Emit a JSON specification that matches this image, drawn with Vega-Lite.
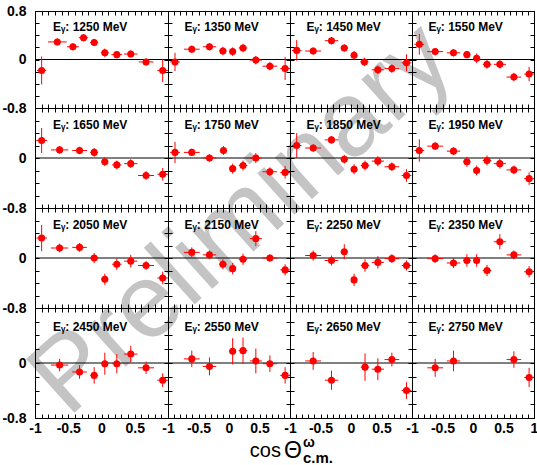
{
"$schema": "https://vega.github.io/schema/vega-lite/v6.json",
"background": "white",
"padding": {"left": 1, "top": 3, "right": 0, "bottom": 0},
"config": {
  "view": {"stroke": "black", "strokeWidth": 1},
  "axis": {"domain": false, "grid": false, "tickColor": "black", "tickSize": -4, "tickWidth": 1, "labelFont": "Liberation Sans", "labelFontWeight": "bold", "labelFontSize": 14, "labelColor": "black", "labelFlush": false, "labelOverlap": false, "labelBound": false}
},
"datasets": {
  "pts": [
    {"E":1250,"x":-0.9,"y":-0.18,"ex":0.07,"ey":0.23},
    {"E":1250,"x":-0.665,"y":0.29,"ex":0.14,"ey":0.06},
    {"E":1250,"x":-0.43,"y":0.21,"ex":0.09,"ey":0.06},
    {"E":1250,"x":-0.27,"y":0.36,"ex":0.07,"ey":0.06},
    {"E":1250,"x":-0.11,"y":0.28,"ex":0.06,"ey":0.06},
    {"E":1250,"x":0.05,"y":0.11,"ex":0.06,"ey":0.07},
    {"E":1250,"x":0.23,"y":0.08,"ex":0.08,"ey":0.06},
    {"E":1250,"x":0.44,"y":0.09,"ex":0.1,"ey":0.06},
    {"E":1250,"x":0.67,"y":-0.04,"ex":0.11,"ey":0.06},
    {"E":1250,"x":0.92,"y":-0.18,"ex":0.08,"ey":0.19},
    {"E":1350,"x":-0.885,"y":-0.04,"ex":0.08,"ey":0.15},
    {"E":1350,"x":-0.61,"y":0.17,"ex":0.13,"ey":0.06},
    {"E":1350,"x":-0.32,"y":0.21,"ex":0.11,"ey":0.06},
    {"E":1350,"x":-0.1,"y":0.14,"ex":0.06,"ey":0.07},
    {"E":1350,"x":0.06,"y":0.13,"ex":0.05,"ey":0.07},
    {"E":1350,"x":0.23,"y":0.19,"ex":0.07,"ey":0.07},
    {"E":1350,"x":0.44,"y":-0.01,"ex":0.1,"ey":0.07},
    {"E":1350,"x":0.67,"y":-0.11,"ex":0.12,"ey":0.07},
    {"E":1350,"x":0.92,"y":-0.15,"ex":0.08,"ey":0.19},
    {"E":1450,"x":-0.89,"y":0.15,"ex":0.08,"ey":0.17},
    {"E":1450,"x":-0.62,"y":0.14,"ex":0.13,"ey":0.06},
    {"E":1450,"x":-0.32,"y":0.31,"ex":0.11,"ey":0.06},
    {"E":1450,"x":-0.11,"y":0.19,"ex":0.06,"ey":0.06},
    {"E":1450,"x":0.05,"y":0.07,"ex":0.05,"ey":0.07},
    {"E":1450,"x":0.22,"y":-0.04,"ex":0.07,"ey":0.07},
    {"E":1450,"x":0.44,"y":-0.17,"ex":0.1,"ey":0.07},
    {"E":1450,"x":0.67,"y":-0.15,"ex":0.12,"ey":0.07},
    {"E":1450,"x":0.91,"y":-0.055,"ex":0.08,"ey":0.14},
    {"E":1550,"x":-0.88,"y":0.25,"ex":0.08,"ey":0.17},
    {"E":1550,"x":-0.62,"y":0.13,"ex":0.13,"ey":0.06},
    {"E":1550,"x":-0.32,"y":0.11,"ex":0.11,"ey":0.06},
    {"E":1550,"x":-0.1,"y":0.08,"ex":0.06,"ey":0.06},
    {"E":1550,"x":0.06,"y":0.02,"ex":0.05,"ey":0.08},
    {"E":1550,"x":0.23,"y":-0.08,"ex":0.07,"ey":0.07},
    {"E":1550,"x":0.44,"y":-0.08,"ex":0.1,"ey":0.07},
    {"E":1550,"x":0.67,"y":-0.29,"ex":0.12,"ey":0.07},
    {"E":1550,"x":0.92,"y":-0.24,"ex":0.08,"ey":0.12},
    {"E":1650,"x":-0.9,"y":0.28,"ex":0.08,"ey":0.2},
    {"E":1650,"x":-0.63,"y":0.13,"ex":0.13,"ey":0.06},
    {"E":1650,"x":-0.33,"y":0.12,"ex":0.11,"ey":0.06},
    {"E":1650,"x":-0.11,"y":0.09,"ex":0.06,"ey":0.07},
    {"E":1650,"x":0.05,"y":-0.06,"ex":0.05,"ey":0.07},
    {"E":1650,"x":0.23,"y":-0.11,"ex":0.07,"ey":0.07},
    {"E":1650,"x":0.44,"y":-0.09,"ex":0.1,"ey":0.07},
    {"E":1650,"x":0.67,"y":-0.28,"ex":0.12,"ey":0.07},
    {"E":1650,"x":0.92,"y":-0.26,"ex":0.08,"ey":0.1},
    {"E":1750,"x":-0.885,"y":0.09,"ex":0.08,"ey":0.17},
    {"E":1750,"x":-0.61,"y":0.09,"ex":0.13,"ey":0.06},
    {"E":1750,"x":-0.32,"y":0.0,"ex":0.11,"ey":0.06},
    {"E":1750,"x":-0.09,"y":0.12,"ex":0.06,"ey":0.07},
    {"E":1750,"x":0.06,"y":-0.17,"ex":0.05,"ey":0.08},
    {"E":1750,"x":0.23,"y":-0.12,"ex":0.07,"ey":0.08},
    {"E":1750,"x":0.44,"y":0.0,"ex":0.1,"ey":0.08},
    {"E":1750,"x":0.67,"y":-0.22,"ex":0.12,"ey":0.07},
    {"E":1750,"x":0.92,"y":-0.23,"ex":0.08,"ey":0.1},
    {"E":1850,"x":-0.89,"y":0.2,"ex":0.08,"ey":0.2},
    {"E":1850,"x":-0.62,"y":0.16,"ex":0.13,"ey":0.06},
    {"E":1850,"x":-0.32,"y":0.29,"ex":0.11,"ey":0.06},
    {"E":1850,"x":-0.11,"y":-0.02,"ex":0.06,"ey":0.07},
    {"E":1850,"x":0.05,"y":-0.18,"ex":0.05,"ey":0.08},
    {"E":1850,"x":0.23,"y":-0.12,"ex":0.07,"ey":0.08},
    {"E":1850,"x":0.44,"y":-0.05,"ex":0.1,"ey":0.08},
    {"E":1850,"x":0.67,"y":-0.14,"ex":0.12,"ey":0.07},
    {"E":1850,"x":0.91,"y":-0.28,"ex":0.08,"ey":0.1},
    {"E":1950,"x":-0.88,"y":0.12,"ex":0.08,"ey":0.18},
    {"E":1950,"x":-0.62,"y":0.19,"ex":0.13,"ey":0.06},
    {"E":1950,"x":-0.32,"y":0.11,"ex":0.11,"ey":0.06},
    {"E":1950,"x":-0.1,"y":-0.06,"ex":0.06,"ey":0.08},
    {"E":1950,"x":0.06,"y":-0.2,"ex":0.05,"ey":0.08},
    {"E":1950,"x":0.23,"y":-0.04,"ex":0.07,"ey":0.08},
    {"E":1950,"x":0.44,"y":-0.09,"ex":0.1,"ey":0.08},
    {"E":1950,"x":0.67,"y":-0.19,"ex":0.12,"ey":0.07},
    {"E":1950,"x":0.92,"y":-0.33,"ex":0.08,"ey":0.1},
    {"E":2050,"x":-0.9,"y":0.32,"ex":0.08,"ey":0.21},
    {"E":2050,"x":-0.63,"y":0.16,"ex":0.13,"ey":0.07},
    {"E":2050,"x":-0.33,"y":0.17,"ex":0.11,"ey":0.07},
    {"E":2050,"x":-0.11,"y":0.0,"ex":0.06,"ey":0.08},
    {"E":2050,"x":0.05,"y":-0.34,"ex":0.05,"ey":0.09},
    {"E":2050,"x":0.23,"y":-0.1,"ex":0.07,"ey":0.09},
    {"E":2050,"x":0.44,"y":-0.05,"ex":0.1,"ey":0.1},
    {"E":2050,"x":0.67,"y":-0.12,"ex":0.12,"ey":0.07},
    {"E":2050,"x":0.92,"y":-0.32,"ex":0.08,"ey":0.1},
    {"E":2150,"x":-0.61,"y":0.09,"ex":0.13,"ey":0.08},
    {"E":2150,"x":-0.32,"y":0.05,"ex":0.11,"ey":0.07},
    {"E":2150,"x":-0.1,"y":-0.1,"ex":0.06,"ey":0.08},
    {"E":2150,"x":0.06,"y":-0.17,"ex":0.05,"ey":0.09},
    {"E":2150,"x":0.23,"y":-0.02,"ex":0.07,"ey":0.09},
    {"E":2150,"x":0.44,"y":0.31,"ex":0.1,"ey":0.12},
    {"E":2150,"x":0.67,"y":0.0,"ex":0.12,"ey":0.06},
    {"E":2150,"x":0.92,"y":-0.19,"ex":0.08,"ey":0.09},
    {"E":2250,"x":-0.62,"y":0.04,"ex":0.13,"ey":0.08},
    {"E":2250,"x":-0.32,"y":-0.04,"ex":0.11,"ey":0.08},
    {"E":2250,"x":-0.11,"y":0.1,"ex":0.06,"ey":0.12},
    {"E":2250,"x":0.05,"y":-0.35,"ex":0.05,"ey":0.1},
    {"E":2250,"x":0.23,"y":-0.12,"ex":0.07,"ey":0.1},
    {"E":2250,"x":0.44,"y":-0.07,"ex":0.1,"ey":0.1},
    {"E":2250,"x":0.67,"y":-0.01,"ex":0.12,"ey":0.07},
    {"E":2250,"x":0.91,"y":-0.12,"ex":0.08,"ey":0.08},
    {"E":2350,"x":-0.62,"y":-0.01,"ex":0.13,"ey":0.07},
    {"E":2350,"x":-0.32,"y":-0.08,"ex":0.11,"ey":0.08},
    {"E":2350,"x":-0.1,"y":-0.04,"ex":0.06,"ey":0.1},
    {"E":2350,"x":0.06,"y":-0.04,"ex":0.05,"ey":0.1},
    {"E":2350,"x":0.23,"y":-0.2,"ex":0.07,"ey":0.09},
    {"E":2350,"x":0.44,"y":0.26,"ex":0.1,"ey":0.12},
    {"E":2350,"x":0.67,"y":0.05,"ex":0.12,"ey":0.07},
    {"E":2350,"x":0.92,"y":-0.22,"ex":0.08,"ey":0.09},
    {"E":2450,"x":-0.63,"y":-0.03,"ex":0.13,"ey":0.09},
    {"E":2450,"x":-0.33,"y":-0.13,"ex":0.11,"ey":0.1},
    {"E":2450,"x":-0.11,"y":-0.18,"ex":0.06,"ey":0.12},
    {"E":2450,"x":0.05,"y":-0.01,"ex":0.05,"ey":0.16},
    {"E":2450,"x":0.23,"y":-0.01,"ex":0.07,"ey":0.14},
    {"E":2450,"x":0.44,"y":0.13,"ex":0.1,"ey":0.12},
    {"E":2450,"x":0.67,"y":-0.07,"ex":0.12,"ey":0.09},
    {"E":2450,"x":0.92,"y":-0.25,"ex":0.08,"ey":0.1},
    {"E":2550,"x":-0.61,"y":0.06,"ex":0.13,"ey":0.12},
    {"E":2550,"x":-0.32,"y":-0.05,"ex":0.11,"ey":0.13},
    {"E":2550,"x":0.06,"y":0.17,"ex":0.05,"ey":0.19},
    {"E":2550,"x":0.23,"y":0.18,"ex":0.07,"ey":0.19},
    {"E":2550,"x":0.44,"y":0.03,"ex":0.1,"ey":0.18},
    {"E":2550,"x":0.67,"y":-0.01,"ex":0.12,"ey":0.12},
    {"E":2550,"x":0.92,"y":-0.18,"ex":0.08,"ey":0.12},
    {"E":2650,"x":-0.62,"y":0.03,"ex":0.13,"ey":0.13},
    {"E":2650,"x":-0.32,"y":-0.25,"ex":0.11,"ey":0.14},
    {"E":2650,"x":0.23,"y":-0.06,"ex":0.07,"ey":0.2},
    {"E":2650,"x":0.44,"y":-0.09,"ex":0.1,"ey":0.16},
    {"E":2650,"x":0.67,"y":0.05,"ex":0.12,"ey":0.1},
    {"E":2650,"x":0.91,"y":-0.4,"ex":0.08,"ey":0.12},
    {"E":2750,"x":-0.62,"y":-0.07,"ex":0.13,"ey":0.13},
    {"E":2750,"x":-0.32,"y":0.03,"ex":0.11,"ey":0.15},
    {"E":2750,"x":0.67,"y":0.05,"ex":0.12,"ey":0.12},
    {"E":2750,"x":0.92,"y":-0.21,"ex":0.08,"ey":0.14}
  ]
},
"columns": 4,
"spacing": 0,
"bounds": "flush",
"align": "each",
"concat": [
 {"width":133,"height":97,"resolve":{"axis":{"x":"independent","y":"independent"}},"layer":[
  {"data":{"values":[{}]},"mark":{"type":"text","align":"center","baseline":"middle","font":"Liberation Sans","fontSize":105,"angle":318,"color":"#c4c4c4"},"encoding":{"x":{"datum":2.11,"type":"quantitative","scale":{"domain":[-1,1],"nice":false,"zero":false},"axis":null},"y":{"datum":-2.63,"type":"quantitative","scale":{"domain":[-0.8,0.8],"nice":false,"zero":false},"axis":null},"text":{"value":"Preliminary"}}},
  {"data":{"values":[{}]},"mark":{"type":"rule","color":"black","strokeWidth":1},"encoding":{"y":{"datum":0,"type":"quantitative","scale":{"domain":[-0.8,0.8],"nice":false,"zero":false},"axis":{"orient":"right","title":null,"values":[-0.8,-0.6,-0.4,-0.2,0,0.2,0.4,0.6,0.8],"labels":false}}}},
  {"data":{"name":"pts"},"transform":[{"filter":"datum.E==1250"}],"mark":{"type":"errorbar","color":"#ff0000","thickness":1,"clip":true},"encoding":{"x":{"field":"x","type":"quantitative","scale":{"domain":[-1,1],"nice":false,"zero":false},"axis":null},"xError":{"field":"ex"},"y":{"field":"y","type":"quantitative","scale":{"domain":[-0.8,0.8],"nice":false,"zero":false},"axis":null}}},
  {"data":{"name":"pts"},"transform":[{"filter":"datum.E==1250"}],"mark":{"type":"errorbar","color":"#ff0000","thickness":1,"clip":true},"encoding":{"x":{"field":"x","type":"quantitative","scale":{"domain":[-1,1],"nice":false,"zero":false},"axis":null},"y":{"field":"y","type":"quantitative","scale":{"domain":[-0.8,0.8],"nice":false,"zero":false},"axis":null},"yError":{"field":"ey"}}},
  {"data":{"name":"pts"},"transform":[{"filter":"datum.E==1250"}],"mark":{"type":"circle","color":"#ff0000","opacity":1,"size":50},"encoding":{"x":{"field":"x","type":"quantitative","scale":{"domain":[-1,1],"nice":false,"zero":false},"axis":{"orient":"bottom","title":null,"tickCount":20,"labels":false}},"y":{"field":"y","type":"quantitative","scale":{"domain":[-0.8,0.8],"nice":false,"zero":false},"axis":{"orient":"left","title":null,"values":[-0.8,-0.6,-0.4,-0.2,0,0.2,0.4,0.6,0.8],"labelPadding":13,"labelExpr":"abs(datum.value)<0.01 ? '0' : datum.value>0.79 ? '0.8' : datum.value<-0.79 ? '-0.8' : ''"}}}},
  {"data":{"values":[{}]},"mark":{"type":"text","align":"left","baseline":"middle","font":"Liberation Sans","fontWeight":"bold","fontSize":12,"color":"black"},"encoding":{"x":{"datum":-0.73,"type":"quantitative","scale":{"domain":[-1,1],"nice":false,"zero":false},"axis":{"orient":"top","title":null,"tickCount":20,"labels":false}},"y":{"datum":0.53,"type":"quantitative","axis":null},"text":{"value":"Eᵧ: 1250 MeV"}}}
 ]},
 {"width":122,"height":97,"resolve":{"axis":{"x":"independent","y":"independent"}},"layer":[
  {"data":{"values":[{}]},"mark":{"type":"rule","color":"black","strokeWidth":1},"encoding":{"y":{"datum":0,"type":"quantitative","scale":{"domain":[-0.8,0.8],"nice":false,"zero":false},"axis":{"orient":"right","title":null,"values":[-0.8,-0.6,-0.4,-0.2,0,0.2,0.4,0.6,0.8],"labels":false}}}},
  {"data":{"name":"pts"},"transform":[{"filter":"datum.E==1350"}],"mark":{"type":"errorbar","color":"#ff0000","thickness":1,"clip":true},"encoding":{"x":{"field":"x","type":"quantitative","scale":{"domain":[-1,1],"nice":false,"zero":false},"axis":null},"xError":{"field":"ex"},"y":{"field":"y","type":"quantitative","scale":{"domain":[-0.8,0.8],"nice":false,"zero":false},"axis":null}}},
  {"data":{"name":"pts"},"transform":[{"filter":"datum.E==1350"}],"mark":{"type":"errorbar","color":"#ff0000","thickness":1,"clip":true},"encoding":{"x":{"field":"x","type":"quantitative","scale":{"domain":[-1,1],"nice":false,"zero":false},"axis":null},"y":{"field":"y","type":"quantitative","scale":{"domain":[-0.8,0.8],"nice":false,"zero":false},"axis":null},"yError":{"field":"ey"}}},
  {"data":{"name":"pts"},"transform":[{"filter":"datum.E==1350"}],"mark":{"type":"circle","color":"#ff0000","opacity":1,"size":50},"encoding":{"x":{"field":"x","type":"quantitative","scale":{"domain":[-1,1],"nice":false,"zero":false},"axis":{"orient":"bottom","title":null,"tickCount":20,"labels":false}},"y":{"field":"y","type":"quantitative","scale":{"domain":[-0.8,0.8],"nice":false,"zero":false},"axis":{"orient":"left","title":null,"values":[-0.8,-0.6,-0.4,-0.2,0,0.2,0.4,0.6,0.8],"labels":false}}}},
  {"data":{"values":[{}]},"mark":{"type":"text","align":"left","baseline":"middle","font":"Liberation Sans","fontWeight":"bold","fontSize":12,"color":"black"},"encoding":{"x":{"datum":-0.73,"type":"quantitative","scale":{"domain":[-1,1],"nice":false,"zero":false},"axis":{"orient":"top","title":null,"tickCount":20,"labels":false}},"y":{"datum":0.53,"type":"quantitative","axis":null},"text":{"value":"Eᵧ: 1350 MeV"}}}
 ]},
 {"width":122,"height":97,"resolve":{"axis":{"x":"independent","y":"independent"}},"layer":[
  {"data":{"values":[{}]},"mark":{"type":"rule","color":"black","strokeWidth":1},"encoding":{"y":{"datum":0,"type":"quantitative","scale":{"domain":[-0.8,0.8],"nice":false,"zero":false},"axis":{"orient":"right","title":null,"values":[-0.8,-0.6,-0.4,-0.2,0,0.2,0.4,0.6,0.8],"labels":false}}}},
  {"data":{"name":"pts"},"transform":[{"filter":"datum.E==1450"}],"mark":{"type":"errorbar","color":"#ff0000","thickness":1,"clip":true},"encoding":{"x":{"field":"x","type":"quantitative","scale":{"domain":[-1,1],"nice":false,"zero":false},"axis":null},"xError":{"field":"ex"},"y":{"field":"y","type":"quantitative","scale":{"domain":[-0.8,0.8],"nice":false,"zero":false},"axis":null}}},
  {"data":{"name":"pts"},"transform":[{"filter":"datum.E==1450"}],"mark":{"type":"errorbar","color":"#ff0000","thickness":1,"clip":true},"encoding":{"x":{"field":"x","type":"quantitative","scale":{"domain":[-1,1],"nice":false,"zero":false},"axis":null},"y":{"field":"y","type":"quantitative","scale":{"domain":[-0.8,0.8],"nice":false,"zero":false},"axis":null},"yError":{"field":"ey"}}},
  {"data":{"name":"pts"},"transform":[{"filter":"datum.E==1450"}],"mark":{"type":"circle","color":"#ff0000","opacity":1,"size":50},"encoding":{"x":{"field":"x","type":"quantitative","scale":{"domain":[-1,1],"nice":false,"zero":false},"axis":{"orient":"bottom","title":null,"tickCount":20,"labels":false}},"y":{"field":"y","type":"quantitative","scale":{"domain":[-0.8,0.8],"nice":false,"zero":false},"axis":{"orient":"left","title":null,"values":[-0.8,-0.6,-0.4,-0.2,0,0.2,0.4,0.6,0.8],"labels":false}}}},
  {"data":{"values":[{}]},"mark":{"type":"text","align":"left","baseline":"middle","font":"Liberation Sans","fontWeight":"bold","fontSize":12,"color":"black"},"encoding":{"x":{"datum":-0.73,"type":"quantitative","scale":{"domain":[-1,1],"nice":false,"zero":false},"axis":{"orient":"top","title":null,"tickCount":20,"labels":false}},"y":{"datum":0.53,"type":"quantitative","axis":null},"text":{"value":"Eᵧ: 1450 MeV"}}}
 ]},
 {"width":122,"height":97,"resolve":{"axis":{"x":"independent","y":"independent"}},"layer":[
  {"data":{"values":[{}]},"mark":{"type":"rule","color":"black","strokeWidth":1},"encoding":{"y":{"datum":0,"type":"quantitative","scale":{"domain":[-0.8,0.8],"nice":false,"zero":false},"axis":{"orient":"right","title":null,"values":[-0.8,-0.6,-0.4,-0.2,0,0.2,0.4,0.6,0.8],"labels":false}}}},
  {"data":{"name":"pts"},"transform":[{"filter":"datum.E==1550"}],"mark":{"type":"errorbar","color":"#ff0000","thickness":1,"clip":true},"encoding":{"x":{"field":"x","type":"quantitative","scale":{"domain":[-1,1],"nice":false,"zero":false},"axis":null},"xError":{"field":"ex"},"y":{"field":"y","type":"quantitative","scale":{"domain":[-0.8,0.8],"nice":false,"zero":false},"axis":null}}},
  {"data":{"name":"pts"},"transform":[{"filter":"datum.E==1550"}],"mark":{"type":"errorbar","color":"#ff0000","thickness":1,"clip":true},"encoding":{"x":{"field":"x","type":"quantitative","scale":{"domain":[-1,1],"nice":false,"zero":false},"axis":null},"y":{"field":"y","type":"quantitative","scale":{"domain":[-0.8,0.8],"nice":false,"zero":false},"axis":null},"yError":{"field":"ey"}}},
  {"data":{"name":"pts"},"transform":[{"filter":"datum.E==1550"}],"mark":{"type":"circle","color":"#ff0000","opacity":1,"size":50},"encoding":{"x":{"field":"x","type":"quantitative","scale":{"domain":[-1,1],"nice":false,"zero":false},"axis":{"orient":"bottom","title":null,"tickCount":20,"labels":false}},"y":{"field":"y","type":"quantitative","scale":{"domain":[-0.8,0.8],"nice":false,"zero":false},"axis":{"orient":"left","title":null,"values":[-0.8,-0.6,-0.4,-0.2,0,0.2,0.4,0.6,0.8],"labels":false}}}},
  {"data":{"values":[{}]},"mark":{"type":"text","align":"left","baseline":"middle","font":"Liberation Sans","fontWeight":"bold","fontSize":12,"color":"black"},"encoding":{"x":{"datum":-0.73,"type":"quantitative","scale":{"domain":[-1,1],"nice":false,"zero":false},"axis":{"orient":"top","title":null,"tickCount":20,"labels":false}},"y":{"datum":0.53,"type":"quantitative","axis":null},"text":{"value":"Eᵧ: 1550 MeV"}}}
 ]},
 {"width":133,"height":100,"resolve":{"axis":{"x":"independent","y":"independent"}},"layer":[
  {"data":{"values":[{}]},"mark":{"type":"rule","color":"black","strokeWidth":1},"encoding":{"y":{"datum":0,"type":"quantitative","scale":{"domain":[-0.8,0.8],"nice":false,"zero":false},"axis":{"orient":"right","title":null,"values":[-0.8,-0.6,-0.4,-0.2,0,0.2,0.4,0.6,0.8],"labels":false}}}},
  {"data":{"name":"pts"},"transform":[{"filter":"datum.E==1650"}],"mark":{"type":"errorbar","color":"#ff0000","thickness":1,"clip":true},"encoding":{"x":{"field":"x","type":"quantitative","scale":{"domain":[-1,1],"nice":false,"zero":false},"axis":null},"xError":{"field":"ex"},"y":{"field":"y","type":"quantitative","scale":{"domain":[-0.8,0.8],"nice":false,"zero":false},"axis":null}}},
  {"data":{"name":"pts"},"transform":[{"filter":"datum.E==1650"}],"mark":{"type":"errorbar","color":"#ff0000","thickness":1,"clip":true},"encoding":{"x":{"field":"x","type":"quantitative","scale":{"domain":[-1,1],"nice":false,"zero":false},"axis":null},"y":{"field":"y","type":"quantitative","scale":{"domain":[-0.8,0.8],"nice":false,"zero":false},"axis":null},"yError":{"field":"ey"}}},
  {"data":{"name":"pts"},"transform":[{"filter":"datum.E==1650"}],"mark":{"type":"circle","color":"#ff0000","opacity":1,"size":50},"encoding":{"x":{"field":"x","type":"quantitative","scale":{"domain":[-1,1],"nice":false,"zero":false},"axis":{"orient":"bottom","title":null,"tickCount":20,"labels":false}},"y":{"field":"y","type":"quantitative","scale":{"domain":[-0.8,0.8],"nice":false,"zero":false},"axis":{"orient":"left","title":null,"values":[-0.8,-0.6,-0.4,-0.2,0,0.2,0.4,0.6,0.8],"labelPadding":13,"labelExpr":"abs(datum.value)<0.01 ? '0' : datum.value<-0.79 ? '-0.8' : ''"}}}},
  {"data":{"values":[{}]},"mark":{"type":"text","align":"left","baseline":"middle","font":"Liberation Sans","fontWeight":"bold","fontSize":12,"color":"black"},"encoding":{"x":{"datum":-0.73,"type":"quantitative","scale":{"domain":[-1,1],"nice":false,"zero":false},"axis":{"orient":"top","title":null,"tickCount":20,"labels":false}},"y":{"datum":0.53,"type":"quantitative","axis":null},"text":{"value":"Eᵧ: 1650 MeV"}}}
 ]},
 {"width":122,"height":100,"resolve":{"axis":{"x":"independent","y":"independent"}},"layer":[
  {"data":{"values":[{}]},"mark":{"type":"rule","color":"black","strokeWidth":1},"encoding":{"y":{"datum":0,"type":"quantitative","scale":{"domain":[-0.8,0.8],"nice":false,"zero":false},"axis":{"orient":"right","title":null,"values":[-0.8,-0.6,-0.4,-0.2,0,0.2,0.4,0.6,0.8],"labels":false}}}},
  {"data":{"name":"pts"},"transform":[{"filter":"datum.E==1750"}],"mark":{"type":"errorbar","color":"#ff0000","thickness":1,"clip":true},"encoding":{"x":{"field":"x","type":"quantitative","scale":{"domain":[-1,1],"nice":false,"zero":false},"axis":null},"xError":{"field":"ex"},"y":{"field":"y","type":"quantitative","scale":{"domain":[-0.8,0.8],"nice":false,"zero":false},"axis":null}}},
  {"data":{"name":"pts"},"transform":[{"filter":"datum.E==1750"}],"mark":{"type":"errorbar","color":"#ff0000","thickness":1,"clip":true},"encoding":{"x":{"field":"x","type":"quantitative","scale":{"domain":[-1,1],"nice":false,"zero":false},"axis":null},"y":{"field":"y","type":"quantitative","scale":{"domain":[-0.8,0.8],"nice":false,"zero":false},"axis":null},"yError":{"field":"ey"}}},
  {"data":{"name":"pts"},"transform":[{"filter":"datum.E==1750"}],"mark":{"type":"circle","color":"#ff0000","opacity":1,"size":50},"encoding":{"x":{"field":"x","type":"quantitative","scale":{"domain":[-1,1],"nice":false,"zero":false},"axis":{"orient":"bottom","title":null,"tickCount":20,"labels":false}},"y":{"field":"y","type":"quantitative","scale":{"domain":[-0.8,0.8],"nice":false,"zero":false},"axis":{"orient":"left","title":null,"values":[-0.8,-0.6,-0.4,-0.2,0,0.2,0.4,0.6,0.8],"labels":false}}}},
  {"data":{"values":[{}]},"mark":{"type":"text","align":"left","baseline":"middle","font":"Liberation Sans","fontWeight":"bold","fontSize":12,"color":"black"},"encoding":{"x":{"datum":-0.73,"type":"quantitative","scale":{"domain":[-1,1],"nice":false,"zero":false},"axis":{"orient":"top","title":null,"tickCount":20,"labels":false}},"y":{"datum":0.53,"type":"quantitative","axis":null},"text":{"value":"Eᵧ: 1750 MeV"}}}
 ]},
 {"width":122,"height":100,"resolve":{"axis":{"x":"independent","y":"independent"}},"layer":[
  {"data":{"values":[{}]},"mark":{"type":"rule","color":"black","strokeWidth":1},"encoding":{"y":{"datum":0,"type":"quantitative","scale":{"domain":[-0.8,0.8],"nice":false,"zero":false},"axis":{"orient":"right","title":null,"values":[-0.8,-0.6,-0.4,-0.2,0,0.2,0.4,0.6,0.8],"labels":false}}}},
  {"data":{"name":"pts"},"transform":[{"filter":"datum.E==1850"}],"mark":{"type":"errorbar","color":"#ff0000","thickness":1,"clip":true},"encoding":{"x":{"field":"x","type":"quantitative","scale":{"domain":[-1,1],"nice":false,"zero":false},"axis":null},"xError":{"field":"ex"},"y":{"field":"y","type":"quantitative","scale":{"domain":[-0.8,0.8],"nice":false,"zero":false},"axis":null}}},
  {"data":{"name":"pts"},"transform":[{"filter":"datum.E==1850"}],"mark":{"type":"errorbar","color":"#ff0000","thickness":1,"clip":true},"encoding":{"x":{"field":"x","type":"quantitative","scale":{"domain":[-1,1],"nice":false,"zero":false},"axis":null},"y":{"field":"y","type":"quantitative","scale":{"domain":[-0.8,0.8],"nice":false,"zero":false},"axis":null},"yError":{"field":"ey"}}},
  {"data":{"name":"pts"},"transform":[{"filter":"datum.E==1850"}],"mark":{"type":"circle","color":"#ff0000","opacity":1,"size":50},"encoding":{"x":{"field":"x","type":"quantitative","scale":{"domain":[-1,1],"nice":false,"zero":false},"axis":{"orient":"bottom","title":null,"tickCount":20,"labels":false}},"y":{"field":"y","type":"quantitative","scale":{"domain":[-0.8,0.8],"nice":false,"zero":false},"axis":{"orient":"left","title":null,"values":[-0.8,-0.6,-0.4,-0.2,0,0.2,0.4,0.6,0.8],"labels":false}}}},
  {"data":{"values":[{}]},"mark":{"type":"text","align":"left","baseline":"middle","font":"Liberation Sans","fontWeight":"bold","fontSize":12,"color":"black"},"encoding":{"x":{"datum":-0.73,"type":"quantitative","scale":{"domain":[-1,1],"nice":false,"zero":false},"axis":{"orient":"top","title":null,"tickCount":20,"labels":false}},"y":{"datum":0.53,"type":"quantitative","axis":null},"text":{"value":"Eᵧ: 1850 MeV"}}}
 ]},
 {"width":122,"height":100,"resolve":{"axis":{"x":"independent","y":"independent"}},"layer":[
  {"data":{"values":[{}]},"mark":{"type":"rule","color":"black","strokeWidth":1},"encoding":{"y":{"datum":0,"type":"quantitative","scale":{"domain":[-0.8,0.8],"nice":false,"zero":false},"axis":{"orient":"right","title":null,"values":[-0.8,-0.6,-0.4,-0.2,0,0.2,0.4,0.6,0.8],"labels":false}}}},
  {"data":{"name":"pts"},"transform":[{"filter":"datum.E==1950"}],"mark":{"type":"errorbar","color":"#ff0000","thickness":1,"clip":true},"encoding":{"x":{"field":"x","type":"quantitative","scale":{"domain":[-1,1],"nice":false,"zero":false},"axis":null},"xError":{"field":"ex"},"y":{"field":"y","type":"quantitative","scale":{"domain":[-0.8,0.8],"nice":false,"zero":false},"axis":null}}},
  {"data":{"name":"pts"},"transform":[{"filter":"datum.E==1950"}],"mark":{"type":"errorbar","color":"#ff0000","thickness":1,"clip":true},"encoding":{"x":{"field":"x","type":"quantitative","scale":{"domain":[-1,1],"nice":false,"zero":false},"axis":null},"y":{"field":"y","type":"quantitative","scale":{"domain":[-0.8,0.8],"nice":false,"zero":false},"axis":null},"yError":{"field":"ey"}}},
  {"data":{"name":"pts"},"transform":[{"filter":"datum.E==1950"}],"mark":{"type":"circle","color":"#ff0000","opacity":1,"size":50},"encoding":{"x":{"field":"x","type":"quantitative","scale":{"domain":[-1,1],"nice":false,"zero":false},"axis":{"orient":"bottom","title":null,"tickCount":20,"labels":false}},"y":{"field":"y","type":"quantitative","scale":{"domain":[-0.8,0.8],"nice":false,"zero":false},"axis":{"orient":"left","title":null,"values":[-0.8,-0.6,-0.4,-0.2,0,0.2,0.4,0.6,0.8],"labels":false}}}},
  {"data":{"values":[{}]},"mark":{"type":"text","align":"left","baseline":"middle","font":"Liberation Sans","fontWeight":"bold","fontSize":12,"color":"black"},"encoding":{"x":{"datum":-0.73,"type":"quantitative","scale":{"domain":[-1,1],"nice":false,"zero":false},"axis":{"orient":"top","title":null,"tickCount":20,"labels":false}},"y":{"datum":0.53,"type":"quantitative","axis":null},"text":{"value":"Eᵧ: 1950 MeV"}}}
 ]},
 {"width":133,"height":100,"resolve":{"axis":{"x":"independent","y":"independent"}},"layer":[
  {"data":{"values":[{}]},"mark":{"type":"rule","color":"black","strokeWidth":1},"encoding":{"y":{"datum":0,"type":"quantitative","scale":{"domain":[-0.8,0.8],"nice":false,"zero":false},"axis":{"orient":"right","title":null,"values":[-0.8,-0.6,-0.4,-0.2,0,0.2,0.4,0.6,0.8],"labels":false}}}},
  {"data":{"name":"pts"},"transform":[{"filter":"datum.E==2050"}],"mark":{"type":"errorbar","color":"#ff0000","thickness":1,"clip":true},"encoding":{"x":{"field":"x","type":"quantitative","scale":{"domain":[-1,1],"nice":false,"zero":false},"axis":null},"xError":{"field":"ex"},"y":{"field":"y","type":"quantitative","scale":{"domain":[-0.8,0.8],"nice":false,"zero":false},"axis":null}}},
  {"data":{"name":"pts"},"transform":[{"filter":"datum.E==2050"}],"mark":{"type":"errorbar","color":"#ff0000","thickness":1,"clip":true},"encoding":{"x":{"field":"x","type":"quantitative","scale":{"domain":[-1,1],"nice":false,"zero":false},"axis":null},"y":{"field":"y","type":"quantitative","scale":{"domain":[-0.8,0.8],"nice":false,"zero":false},"axis":null},"yError":{"field":"ey"}}},
  {"data":{"name":"pts"},"transform":[{"filter":"datum.E==2050"}],"mark":{"type":"circle","color":"#ff0000","opacity":1,"size":50},"encoding":{"x":{"field":"x","type":"quantitative","scale":{"domain":[-1,1],"nice":false,"zero":false},"axis":{"orient":"bottom","title":null,"tickCount":20,"labels":false}},"y":{"field":"y","type":"quantitative","scale":{"domain":[-0.8,0.8],"nice":false,"zero":false},"axis":{"orient":"left","title":null,"values":[-0.8,-0.6,-0.4,-0.2,0,0.2,0.4,0.6,0.8],"labelPadding":13,"labelExpr":"abs(datum.value)<0.01 ? '0' : datum.value<-0.79 ? '-0.8' : ''"}}}},
  {"data":{"values":[{}]},"mark":{"type":"text","align":"left","baseline":"middle","font":"Liberation Sans","fontWeight":"bold","fontSize":12,"color":"black"},"encoding":{"x":{"datum":-0.73,"type":"quantitative","scale":{"domain":[-1,1],"nice":false,"zero":false},"axis":{"orient":"top","title":null,"tickCount":20,"labels":false}},"y":{"datum":0.53,"type":"quantitative","axis":null},"text":{"value":"Eᵧ: 2050 MeV"}}}
 ]},
 {"width":122,"height":100,"resolve":{"axis":{"x":"independent","y":"independent"}},"layer":[
  {"data":{"values":[{}]},"mark":{"type":"rule","color":"black","strokeWidth":1},"encoding":{"y":{"datum":0,"type":"quantitative","scale":{"domain":[-0.8,0.8],"nice":false,"zero":false},"axis":{"orient":"right","title":null,"values":[-0.8,-0.6,-0.4,-0.2,0,0.2,0.4,0.6,0.8],"labels":false}}}},
  {"data":{"name":"pts"},"transform":[{"filter":"datum.E==2150"}],"mark":{"type":"errorbar","color":"#ff0000","thickness":1,"clip":true},"encoding":{"x":{"field":"x","type":"quantitative","scale":{"domain":[-1,1],"nice":false,"zero":false},"axis":null},"xError":{"field":"ex"},"y":{"field":"y","type":"quantitative","scale":{"domain":[-0.8,0.8],"nice":false,"zero":false},"axis":null}}},
  {"data":{"name":"pts"},"transform":[{"filter":"datum.E==2150"}],"mark":{"type":"errorbar","color":"#ff0000","thickness":1,"clip":true},"encoding":{"x":{"field":"x","type":"quantitative","scale":{"domain":[-1,1],"nice":false,"zero":false},"axis":null},"y":{"field":"y","type":"quantitative","scale":{"domain":[-0.8,0.8],"nice":false,"zero":false},"axis":null},"yError":{"field":"ey"}}},
  {"data":{"name":"pts"},"transform":[{"filter":"datum.E==2150"}],"mark":{"type":"circle","color":"#ff0000","opacity":1,"size":50},"encoding":{"x":{"field":"x","type":"quantitative","scale":{"domain":[-1,1],"nice":false,"zero":false},"axis":{"orient":"bottom","title":null,"tickCount":20,"labels":false}},"y":{"field":"y","type":"quantitative","scale":{"domain":[-0.8,0.8],"nice":false,"zero":false},"axis":{"orient":"left","title":null,"values":[-0.8,-0.6,-0.4,-0.2,0,0.2,0.4,0.6,0.8],"labels":false}}}},
  {"data":{"values":[{}]},"mark":{"type":"text","align":"left","baseline":"middle","font":"Liberation Sans","fontWeight":"bold","fontSize":12,"color":"black"},"encoding":{"x":{"datum":-0.73,"type":"quantitative","scale":{"domain":[-1,1],"nice":false,"zero":false},"axis":{"orient":"top","title":null,"tickCount":20,"labels":false}},"y":{"datum":0.53,"type":"quantitative","axis":null},"text":{"value":"Eᵧ: 2150 MeV"}}}
 ]},
 {"width":122,"height":100,"resolve":{"axis":{"x":"independent","y":"independent"}},"layer":[
  {"data":{"values":[{}]},"mark":{"type":"rule","color":"black","strokeWidth":1},"encoding":{"y":{"datum":0,"type":"quantitative","scale":{"domain":[-0.8,0.8],"nice":false,"zero":false},"axis":{"orient":"right","title":null,"values":[-0.8,-0.6,-0.4,-0.2,0,0.2,0.4,0.6,0.8],"labels":false}}}},
  {"data":{"name":"pts"},"transform":[{"filter":"datum.E==2250"}],"mark":{"type":"errorbar","color":"#ff0000","thickness":1,"clip":true},"encoding":{"x":{"field":"x","type":"quantitative","scale":{"domain":[-1,1],"nice":false,"zero":false},"axis":null},"xError":{"field":"ex"},"y":{"field":"y","type":"quantitative","scale":{"domain":[-0.8,0.8],"nice":false,"zero":false},"axis":null}}},
  {"data":{"name":"pts"},"transform":[{"filter":"datum.E==2250"}],"mark":{"type":"errorbar","color":"#ff0000","thickness":1,"clip":true},"encoding":{"x":{"field":"x","type":"quantitative","scale":{"domain":[-1,1],"nice":false,"zero":false},"axis":null},"y":{"field":"y","type":"quantitative","scale":{"domain":[-0.8,0.8],"nice":false,"zero":false},"axis":null},"yError":{"field":"ey"}}},
  {"data":{"name":"pts"},"transform":[{"filter":"datum.E==2250"}],"mark":{"type":"circle","color":"#ff0000","opacity":1,"size":50},"encoding":{"x":{"field":"x","type":"quantitative","scale":{"domain":[-1,1],"nice":false,"zero":false},"axis":{"orient":"bottom","title":null,"tickCount":20,"labels":false}},"y":{"field":"y","type":"quantitative","scale":{"domain":[-0.8,0.8],"nice":false,"zero":false},"axis":{"orient":"left","title":null,"values":[-0.8,-0.6,-0.4,-0.2,0,0.2,0.4,0.6,0.8],"labels":false}}}},
  {"data":{"values":[{}]},"mark":{"type":"text","align":"left","baseline":"middle","font":"Liberation Sans","fontWeight":"bold","fontSize":12,"color":"black"},"encoding":{"x":{"datum":-0.73,"type":"quantitative","scale":{"domain":[-1,1],"nice":false,"zero":false},"axis":{"orient":"top","title":null,"tickCount":20,"labels":false}},"y":{"datum":0.53,"type":"quantitative","axis":null},"text":{"value":"Eᵧ: 2250 MeV"}}}
 ]},
 {"width":122,"height":100,"resolve":{"axis":{"x":"independent","y":"independent"}},"layer":[
  {"data":{"values":[{}]},"mark":{"type":"rule","color":"black","strokeWidth":1},"encoding":{"y":{"datum":0,"type":"quantitative","scale":{"domain":[-0.8,0.8],"nice":false,"zero":false},"axis":{"orient":"right","title":null,"values":[-0.8,-0.6,-0.4,-0.2,0,0.2,0.4,0.6,0.8],"labels":false}}}},
  {"data":{"name":"pts"},"transform":[{"filter":"datum.E==2350"}],"mark":{"type":"errorbar","color":"#ff0000","thickness":1,"clip":true},"encoding":{"x":{"field":"x","type":"quantitative","scale":{"domain":[-1,1],"nice":false,"zero":false},"axis":null},"xError":{"field":"ex"},"y":{"field":"y","type":"quantitative","scale":{"domain":[-0.8,0.8],"nice":false,"zero":false},"axis":null}}},
  {"data":{"name":"pts"},"transform":[{"filter":"datum.E==2350"}],"mark":{"type":"errorbar","color":"#ff0000","thickness":1,"clip":true},"encoding":{"x":{"field":"x","type":"quantitative","scale":{"domain":[-1,1],"nice":false,"zero":false},"axis":null},"y":{"field":"y","type":"quantitative","scale":{"domain":[-0.8,0.8],"nice":false,"zero":false},"axis":null},"yError":{"field":"ey"}}},
  {"data":{"name":"pts"},"transform":[{"filter":"datum.E==2350"}],"mark":{"type":"circle","color":"#ff0000","opacity":1,"size":50},"encoding":{"x":{"field":"x","type":"quantitative","scale":{"domain":[-1,1],"nice":false,"zero":false},"axis":{"orient":"bottom","title":null,"tickCount":20,"labels":false}},"y":{"field":"y","type":"quantitative","scale":{"domain":[-0.8,0.8],"nice":false,"zero":false},"axis":{"orient":"left","title":null,"values":[-0.8,-0.6,-0.4,-0.2,0,0.2,0.4,0.6,0.8],"labels":false}}}},
  {"data":{"values":[{}]},"mark":{"type":"text","align":"left","baseline":"middle","font":"Liberation Sans","fontWeight":"bold","fontSize":12,"color":"black"},"encoding":{"x":{"datum":-0.73,"type":"quantitative","scale":{"domain":[-1,1],"nice":false,"zero":false},"axis":{"orient":"top","title":null,"tickCount":20,"labels":false}},"y":{"datum":0.53,"type":"quantitative","axis":null},"text":{"value":"Eᵧ: 2350 MeV"}}}
 ]},
 {"width":133,"height":110,"resolve":{"axis":{"x":"independent","y":"independent"}},"layer":[
  {"data":{"values":[{}]},"mark":{"type":"rule","color":"black","strokeWidth":1},"encoding":{"y":{"datum":0,"type":"quantitative","scale":{"domain":[-0.8,0.8],"nice":false,"zero":false},"axis":{"orient":"right","title":null,"values":[-0.8,-0.6,-0.4,-0.2,0,0.2,0.4,0.6,0.8],"labels":false}}}},
  {"data":{"name":"pts"},"transform":[{"filter":"datum.E==2450"}],"mark":{"type":"errorbar","color":"#ff0000","thickness":1,"clip":true},"encoding":{"x":{"field":"x","type":"quantitative","scale":{"domain":[-1,1],"nice":false,"zero":false},"axis":null},"xError":{"field":"ex"},"y":{"field":"y","type":"quantitative","scale":{"domain":[-0.8,0.8],"nice":false,"zero":false},"axis":null}}},
  {"data":{"name":"pts"},"transform":[{"filter":"datum.E==2450"}],"mark":{"type":"errorbar","color":"#ff0000","thickness":1,"clip":true},"encoding":{"x":{"field":"x","type":"quantitative","scale":{"domain":[-1,1],"nice":false,"zero":false},"axis":null},"y":{"field":"y","type":"quantitative","scale":{"domain":[-0.8,0.8],"nice":false,"zero":false},"axis":null},"yError":{"field":"ey"}}},
  {"data":{"name":"pts"},"transform":[{"filter":"datum.E==2450"}],"mark":{"type":"circle","color":"#ff0000","opacity":1,"size":50},"encoding":{"x":{"field":"x","type":"quantitative","scale":{"domain":[-1,1],"nice":false,"zero":false},"axis":{"orient":"bottom","title":null,"tickCount":20,"labelPadding":7,"labelExpr":"datum.value<-0.99 ? '-1' : abs(datum.value+0.5)<0.01 ? '-0.5' : abs(datum.value)<0.01 ? '0' : abs(datum.value-0.5)<0.01 ? '0.5' : ''"}},"y":{"field":"y","type":"quantitative","scale":{"domain":[-0.8,0.8],"nice":false,"zero":false},"axis":{"orient":"left","title":null,"values":[-0.8,-0.6,-0.4,-0.2,0,0.2,0.4,0.6,0.8],"labelPadding":13,"labelExpr":"abs(datum.value)<0.01 ? '0' : datum.value<-0.79 ? '-0.8' : ''"}}}},
  {"data":{"values":[{}]},"mark":{"type":"text","align":"left","baseline":"middle","font":"Liberation Sans","fontWeight":"bold","fontSize":12,"color":"black"},"encoding":{"x":{"datum":-0.73,"type":"quantitative","scale":{"domain":[-1,1],"nice":false,"zero":false},"axis":{"orient":"top","title":null,"tickCount":20,"labels":false}},"y":{"datum":0.53,"type":"quantitative","axis":null},"text":{"value":"Eᵧ: 2450 MeV"}}}
 ]},
 {"width":122,"height":110,"resolve":{"axis":{"x":"independent","y":"independent"}},"layer":[
  {"data":{"values":[{}]},"mark":{"type":"rule","color":"black","strokeWidth":1},"encoding":{"y":{"datum":0,"type":"quantitative","scale":{"domain":[-0.8,0.8],"nice":false,"zero":false},"axis":{"orient":"right","title":null,"values":[-0.8,-0.6,-0.4,-0.2,0,0.2,0.4,0.6,0.8],"labels":false}}}},
  {"data":{"name":"pts"},"transform":[{"filter":"datum.E==2550"}],"mark":{"type":"errorbar","color":"#ff0000","thickness":1,"clip":true},"encoding":{"x":{"field":"x","type":"quantitative","scale":{"domain":[-1,1],"nice":false,"zero":false},"axis":null},"xError":{"field":"ex"},"y":{"field":"y","type":"quantitative","scale":{"domain":[-0.8,0.8],"nice":false,"zero":false},"axis":null}}},
  {"data":{"name":"pts"},"transform":[{"filter":"datum.E==2550"}],"mark":{"type":"errorbar","color":"#ff0000","thickness":1,"clip":true},"encoding":{"x":{"field":"x","type":"quantitative","scale":{"domain":[-1,1],"nice":false,"zero":false},"axis":null},"y":{"field":"y","type":"quantitative","scale":{"domain":[-0.8,0.8],"nice":false,"zero":false},"axis":null},"yError":{"field":"ey"}}},
  {"data":{"name":"pts"},"transform":[{"filter":"datum.E==2550"}],"mark":{"type":"circle","color":"#ff0000","opacity":1,"size":50},"encoding":{"x":{"field":"x","type":"quantitative","scale":{"domain":[-1,1],"nice":false,"zero":false},"axis":{"orient":"bottom","title":null,"tickCount":20,"labelPadding":7,"labelExpr":"datum.value<-0.99 ? '-1' : abs(datum.value+0.5)<0.01 ? '-0.5' : abs(datum.value)<0.01 ? '0' : abs(datum.value-0.5)<0.01 ? '0.5' : ''"}},"y":{"field":"y","type":"quantitative","scale":{"domain":[-0.8,0.8],"nice":false,"zero":false},"axis":{"orient":"left","title":null,"values":[-0.8,-0.6,-0.4,-0.2,0,0.2,0.4,0.6,0.8],"labels":false}}}},
  {"data":{"values":[{}]},"mark":{"type":"text","align":"left","baseline":"middle","font":"Liberation Sans","fontWeight":"bold","fontSize":12,"color":"black"},"encoding":{"x":{"datum":-0.73,"type":"quantitative","scale":{"domain":[-1,1],"nice":false,"zero":false},"axis":{"orient":"top","title":null,"tickCount":20,"labels":false}},"y":{"datum":0.53,"type":"quantitative","axis":null},"text":{"value":"Eᵧ: 2550 MeV"}}},
  {"data":{"values":[{}]},"mark":{"type":"text","align":"right","baseline":"alphabetic","font":"Liberation Sans","fontSize":20,"color":"black"},"encoding":{"x":{"datum":0.852,"type":"quantitative","axis":null},"y":{"datum":-1.367,"type":"quantitative","axis":null},"text":{"value":"cos"}}},
  {"data":{"values":[{}]},"mark":{"type":"text","align":"left","baseline":"alphabetic","font":"Liberation Sans","fontSize":23,"color":"black"},"encoding":{"x":{"datum":0.9,"type":"quantitative","axis":null},"y":{"datum":-1.38,"type":"quantitative","axis":null},"text":{"value":"Θ"}}},
  {"data":{"values":[{}]},"mark":{"type":"text","align":"left","baseline":"alphabetic","font":"Liberation Sans","fontWeight":"bold","fontSize":14,"color":"black"},"encoding":{"x":{"datum":1.213,"type":"quantitative","axis":null},"y":{"datum":-1.222,"type":"quantitative","axis":null},"text":{"value":"ω"}}},
  {"data":{"values":[{}]},"mark":{"type":"text","align":"left","baseline":"alphabetic","font":"Liberation Sans","fontWeight":"bold","fontSize":15,"color":"black"},"encoding":{"x":{"datum":1.213,"type":"quantitative","axis":null},"y":{"datum":-1.455,"type":"quantitative","axis":null},"text":{"value":"c.m."}}}
 ]},
 {"width":122,"height":110,"resolve":{"axis":{"x":"independent","y":"independent"}},"layer":[
  {"data":{"values":[{}]},"mark":{"type":"rule","color":"black","strokeWidth":1},"encoding":{"y":{"datum":0,"type":"quantitative","scale":{"domain":[-0.8,0.8],"nice":false,"zero":false},"axis":{"orient":"right","title":null,"values":[-0.8,-0.6,-0.4,-0.2,0,0.2,0.4,0.6,0.8],"labels":false}}}},
  {"data":{"name":"pts"},"transform":[{"filter":"datum.E==2650"}],"mark":{"type":"errorbar","color":"#ff0000","thickness":1,"clip":true},"encoding":{"x":{"field":"x","type":"quantitative","scale":{"domain":[-1,1],"nice":false,"zero":false},"axis":null},"xError":{"field":"ex"},"y":{"field":"y","type":"quantitative","scale":{"domain":[-0.8,0.8],"nice":false,"zero":false},"axis":null}}},
  {"data":{"name":"pts"},"transform":[{"filter":"datum.E==2650"}],"mark":{"type":"errorbar","color":"#ff0000","thickness":1,"clip":true},"encoding":{"x":{"field":"x","type":"quantitative","scale":{"domain":[-1,1],"nice":false,"zero":false},"axis":null},"y":{"field":"y","type":"quantitative","scale":{"domain":[-0.8,0.8],"nice":false,"zero":false},"axis":null},"yError":{"field":"ey"}}},
  {"data":{"name":"pts"},"transform":[{"filter":"datum.E==2650"}],"mark":{"type":"circle","color":"#ff0000","opacity":1,"size":50},"encoding":{"x":{"field":"x","type":"quantitative","scale":{"domain":[-1,1],"nice":false,"zero":false},"axis":{"orient":"bottom","title":null,"tickCount":20,"labelPadding":7,"labelExpr":"datum.value<-0.99 ? '-1' : abs(datum.value+0.5)<0.01 ? '-0.5' : abs(datum.value)<0.01 ? '0' : abs(datum.value-0.5)<0.01 ? '0.5' : ''"}},"y":{"field":"y","type":"quantitative","scale":{"domain":[-0.8,0.8],"nice":false,"zero":false},"axis":{"orient":"left","title":null,"values":[-0.8,-0.6,-0.4,-0.2,0,0.2,0.4,0.6,0.8],"labels":false}}}},
  {"data":{"values":[{}]},"mark":{"type":"text","align":"left","baseline":"middle","font":"Liberation Sans","fontWeight":"bold","fontSize":12,"color":"black"},"encoding":{"x":{"datum":-0.73,"type":"quantitative","scale":{"domain":[-1,1],"nice":false,"zero":false},"axis":{"orient":"top","title":null,"tickCount":20,"labels":false}},"y":{"datum":0.53,"type":"quantitative","axis":null},"text":{"value":"Eᵧ: 2650 MeV"}}}
 ]},
 {"width":122,"height":110,"resolve":{"axis":{"x":"independent","y":"independent"}},"layer":[
  {"data":{"values":[{}]},"mark":{"type":"rule","color":"black","strokeWidth":1},"encoding":{"y":{"datum":0,"type":"quantitative","scale":{"domain":[-0.8,0.8],"nice":false,"zero":false},"axis":{"orient":"right","title":null,"values":[-0.8,-0.6,-0.4,-0.2,0,0.2,0.4,0.6,0.8],"labels":false}}}},
  {"data":{"name":"pts"},"transform":[{"filter":"datum.E==2750"}],"mark":{"type":"errorbar","color":"#ff0000","thickness":1,"clip":true},"encoding":{"x":{"field":"x","type":"quantitative","scale":{"domain":[-1,1],"nice":false,"zero":false},"axis":null},"xError":{"field":"ex"},"y":{"field":"y","type":"quantitative","scale":{"domain":[-0.8,0.8],"nice":false,"zero":false},"axis":null}}},
  {"data":{"name":"pts"},"transform":[{"filter":"datum.E==2750"}],"mark":{"type":"errorbar","color":"#ff0000","thickness":1,"clip":true},"encoding":{"x":{"field":"x","type":"quantitative","scale":{"domain":[-1,1],"nice":false,"zero":false},"axis":null},"y":{"field":"y","type":"quantitative","scale":{"domain":[-0.8,0.8],"nice":false,"zero":false},"axis":null},"yError":{"field":"ey"}}},
  {"data":{"name":"pts"},"transform":[{"filter":"datum.E==2750"}],"mark":{"type":"circle","color":"#ff0000","opacity":1,"size":50},"encoding":{"x":{"field":"x","type":"quantitative","scale":{"domain":[-1,1],"nice":false,"zero":false},"axis":{"orient":"bottom","title":null,"tickCount":20,"labelPadding":7,"labelExpr":"datum.value<-0.99 ? '-1' : abs(datum.value+0.5)<0.01 ? '-0.5' : abs(datum.value)<0.01 ? '0' : abs(datum.value-0.5)<0.01 ? '0.5' : datum.value>0.99 ? '1' : ''"}},"y":{"field":"y","type":"quantitative","scale":{"domain":[-0.8,0.8],"nice":false,"zero":false},"axis":{"orient":"left","title":null,"values":[-0.8,-0.6,-0.4,-0.2,0,0.2,0.4,0.6,0.8],"labels":false}}}},
  {"data":{"values":[{}]},"mark":{"type":"text","align":"left","baseline":"middle","font":"Liberation Sans","fontWeight":"bold","fontSize":12,"color":"black"},"encoding":{"x":{"datum":-0.73,"type":"quantitative","scale":{"domain":[-1,1],"nice":false,"zero":false},"axis":{"orient":"top","title":null,"tickCount":20,"labels":false}},"y":{"datum":0.53,"type":"quantitative","axis":null},"text":{"value":"Eᵧ: 2750 MeV"}}}
 ]}
]
}
